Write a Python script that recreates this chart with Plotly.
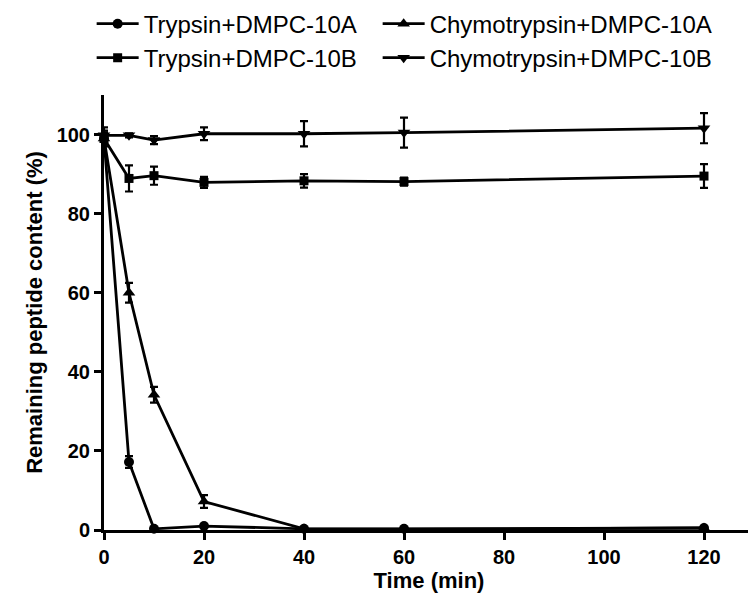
import plotly.graph_objects as go

time = [0, 5, 10, 20, 40, 60, 120]

names = ["Trypsin+DMPC-10A", "Chymotrypsin+DMPC-10A", "Trypsin+DMPC-10B", "Chymotrypsin+DMPC-10B"]
trypsin_a = [99.0, 17.2, 0.3, 1.0, 0.3, 0.3, 0.5]
trypsin_a_err = [1.5, 1.5, 0.3, 0.4, 0.2, 0.2, 0.3]
chymo_a = [99.0, 60.0, 34.2, 7.2, 0.3, 0.2, 0.5]
chymo_a_err = [1.5, 2.5, 2.0, 1.6, 0.2, 0.2, 0.3]
trypsin_b = [99.0, 88.9, 89.6, 87.9, 88.3, 88.1, 89.5]
trypsin_b_err = [2.0, 3.3, 2.3, 1.4, 1.7, 1.0, 3.0]
chymo_b = [99.8, 99.8, 98.6, 100.2, 100.2, 100.5, 101.6]
chymo_b_err = [2.0, 0.5, 1.0, 1.6, 3.2, 3.8, 3.8]

series = [trypsin_a, chymo_a, trypsin_b, chymo_b]
errors = [trypsin_a_err, chymo_a_err, trypsin_b_err, chymo_b_err]
symbols = ["circle", "triangle-up", "square", "triangle-down"]
msizes = [10, 11, 9, 11]
legends = ["legend", "legend2", "legend3", "legend4"]

FONT = "Liberation Sans, Arial, sans-serif"

fig = go.Figure()
for n, y, e, s, ms, lg in zip(names, series, errors, symbols, msizes, legends):
    fig.add_trace(go.Scatter(
        x=time, y=y, name=n, mode="lines+markers",
        line=dict(color="black", width=2.8),
        marker=dict(symbol=s, size=ms, color="black"),
        error_y=dict(type="data", array=e, visible=True, color="black", thickness=2.2, width=4),
        cliponaxis=False, legend=lg,
    ))

leg_common = dict(
    orientation="h", xanchor="left", yanchor="middle",
    font=dict(size=24, family=FONT, color="black"),
    itemwidth=42, bgcolor="rgba(0,0,0,0)",
)
col1_x = -0.019
col2_x = 0.421
row1_y = 1.163
row2_y = 1.085

fig.update_layout(
    width=756, height=593,
    margin=dict(l=96, r=10, t=87, b=71, autoexpand=False),
    plot_bgcolor="white", paper_bgcolor="white",
    font=dict(family=FONT, color="black"),
    showlegend=True,
    legend=dict(x=col1_x, y=row1_y, **leg_common),
    legend2=dict(x=col2_x, y=row1_y, **leg_common),
    legend3=dict(x=col1_x, y=row2_y, **leg_common),
    legend4=dict(x=col2_x, y=row2_y, **leg_common),
    xaxis=dict(
        range=[0, 130], tickvals=[0, 20, 40, 60, 80, 100, 120],
        showline=True, linecolor="black", linewidth=3,
        ticks="outside", ticklen=7, tickwidth=3, tickcolor="black",
        showgrid=False, zeroline=False,
        tickfont=dict(size=20, family=FONT, weight="bold"),
        title=dict(text="<b>Time (min)</b>", font=dict(size=22, family=FONT), standoff=6),
    ),
    yaxis=dict(
        range=[0, 110], tickvals=[0, 20, 40, 60, 80, 100],
        showline=True, linecolor="black", linewidth=3,
        ticks="outside", ticklen=7, tickwidth=3, tickcolor="black",
        showgrid=False, zeroline=False,
        tickfont=dict(size=20, family=FONT, weight="bold"),
        title=dict(text="<b>Remaining peptide content (%)</b>", font=dict(size=22, family=FONT), standoff=8),
    ),
)

fig.write_html("out.html")
